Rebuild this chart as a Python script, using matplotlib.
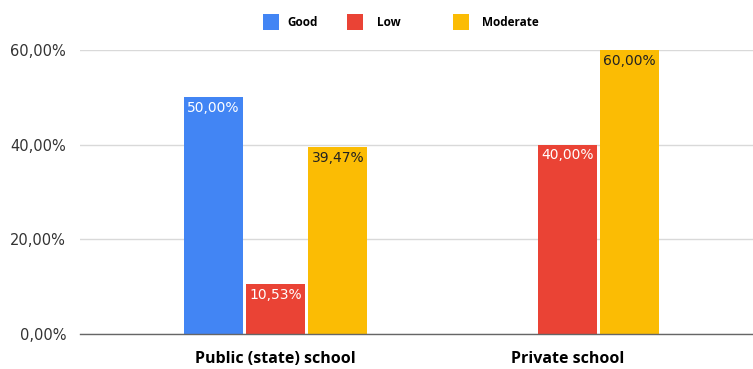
import matplotlib.pyplot as plt
from matplotlib.patches import Rectangle
import numpy as np

categories = ["Public (state) school", "Private school"]
series = ["Good", "Low", "Moderate"]
good = [0.50, 0.0]
low = [0.1053, 0.40]
moderate = [0.3947, 0.60]
colors = ["#4285f4", "#ea4335", "#fbbc04"]
label_colors = ["white", "white", "#222222"]
yticks = [0.0, 0.2, 0.4, 0.6]
# legend item left edges (px) as laid out in the original
legend_x = [263, 347, 453]
legend_text_x = [287, 377, 482]


def pct(v):
    return f"{v * 100:.2f}%".replace(".", ",")


W, H = 753, 369
fig = plt.figure(figsize=(W / 100, H / 100), dpi=100)
ax = fig.add_axes([80 / W, 1 - 334 / H, 1 - 80 / W, (334 - 50) / H])

x = np.arange(len(categories))
width = 0.202
step = 0.213
for i, (name, vals) in enumerate(zip(series, [good, low, moderate])):
    pos = x + (i - 1) * step
    for p, v in zip(pos, vals):
        if v <= 0:
            continue
        ax.bar(p, v, width=width, color=colors[i], zorder=3, clip_on=False)
        ax.text(p, v - 0.008, pct(v), ha="center", va="top",
                color=label_colors[i], fontsize=10, family="DejaVu Sans", zorder=4)

ax.set_xlim(-0.67, 1.635)
ax.set_ylim(0, 0.6)
ax.set_yticks(yticks)
ax.set_yticklabels([pct(t) for t in yticks], fontsize=10.5, color="#333333",
                   family="DejaVu Sans")
ax.tick_params(axis="y", length=0, pad=10)
ax.set_xticks(x)
ax.set_xticklabels(categories, fontsize=11.5, fontweight="bold", family="Open Sans")
ax.tick_params(axis="x", length=0, pad=12)
ax.grid(axis="y", color="#d9d9d9", linewidth=1, zorder=0)
for s in ["top", "right", "left"]:
    ax.spines[s].set_visible(False)
ax.spines["bottom"].set_color("#666666")
ax.spines["bottom"].set_linewidth(1)
ax.spines["bottom"].set_zorder(5)

# legend, placed by hand to keep the uneven spacing
for lx, tx, c, s in zip(legend_x, legend_text_x, colors, series):
    fig.patches.append(Rectangle((lx / W, 1 - 30 / H), 16 / W, 16 / H,
                                 facecolor=c, transform=fig.transFigure))
    fig.text(tx / W, 1 - 22 / H, s, ha="left", va="center",
             family="Open Sans", fontweight="bold", fontsize=8.5)

fig.savefig("out.png", dpi=100)
